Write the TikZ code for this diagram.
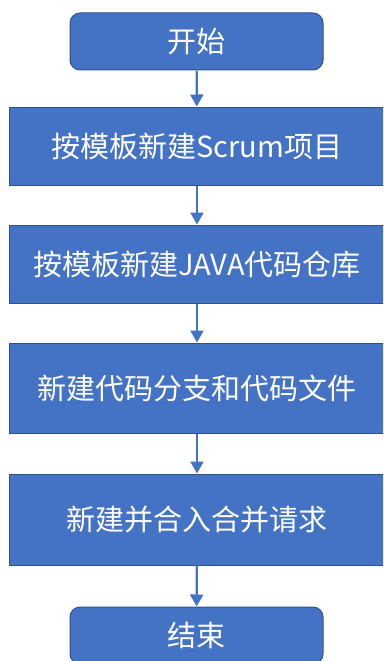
\documentclass[tikz,border=0pt]{standalone}
\usepackage{fontspec}
\setmainfont{Noto Sans CJK SC}
\usetikzlibrary{arrows.meta}
\definecolor{boxblue}{HTML}{4472C4}
\definecolor{boxedge}{HTML}{2F528F}
\begin{document}
\begin{tikzpicture}[x=1pt,y=-1pt,
  box/.style={draw=boxedge, line width=1pt, fill=boxblue, text=white, inner sep=0pt,
    font=\fontsize{29}{33}\selectfont, minimum width=376pt},
  term/.style={box, rounded corners=10pt, minimum width=253pt, minimum height=57pt},
  conn/.style={draw=boxblue, line width=2.2pt, -{Triangle[width=13pt,length=12pt]}}]
\useasboundingbox (0,0) rectangle (383,661);
\clip (0,0) rectangle (383,661);
\node[term] (start) at (196.5,41.5) {开始};
\node[box, minimum height=78pt] (b1) at (197,146) {按模板新建Scrum项目};
\node[box, minimum height=78pt] (b2) at (197,264) {按模板新建JAVA代码仓库};
\node[box, minimum height=90pt] (b3) at (197,388) {新建代码分支和代码文件};
\node[box, minimum height=91pt] (b4) at (197,519.5) {新建并合入合并请求};
\node[term] (end) at (196.5,635.5) {结束};
\draw[conn] (start) -- (b1);
\draw[conn] (b1) -- (b2);
\draw[conn] (b2) -- (b3);
\draw[conn] (b3) -- (b4);
\draw[conn] (b4) -- (end);
\end{tikzpicture}
\end{document}
